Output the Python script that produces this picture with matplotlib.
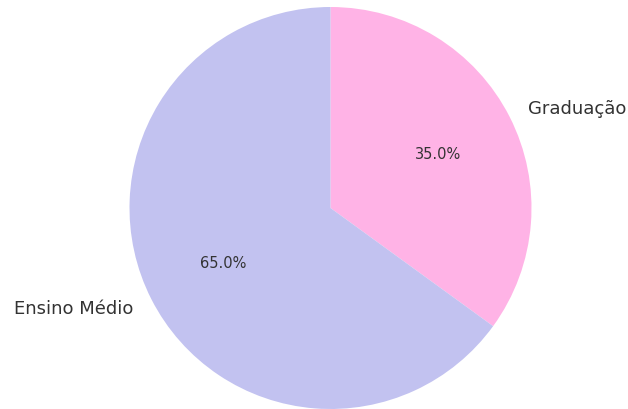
import matplotlib
matplotlib.use("Agg")
import matplotlib.pyplot as plt

labels = ["Graduação", "Ensino Médio"]
values = [35.0, 65.0]
colors = ["#ffb3e6", "#c2c2f0"]

W, H = 628, 410
fig = plt.figure(figsize=(W / 100, H / 100), dpi=100)
ax = fig.add_axes([0, 0, 1, 1])
wedges, texts, autotexts = ax.pie(
    values, labels=labels, colors=colors, autopct="%1.1f%%",
    startangle=90, counterclock=False,
    textprops={"color": "#333333"},
)
for t in texts:
    t.set_fontsize(13)
for t in autotexts:
    t.set_fontsize(10.5)

cx, cy, r = 330.5, 209, 201
ax.set_xlim(-cx / r, (W - cx) / r)
ax.set_ylim(-(H - cy) / r, cy / r)
ax.set_aspect("auto")
ax.axis("off")
fig.savefig("out.png", dpi=100)
